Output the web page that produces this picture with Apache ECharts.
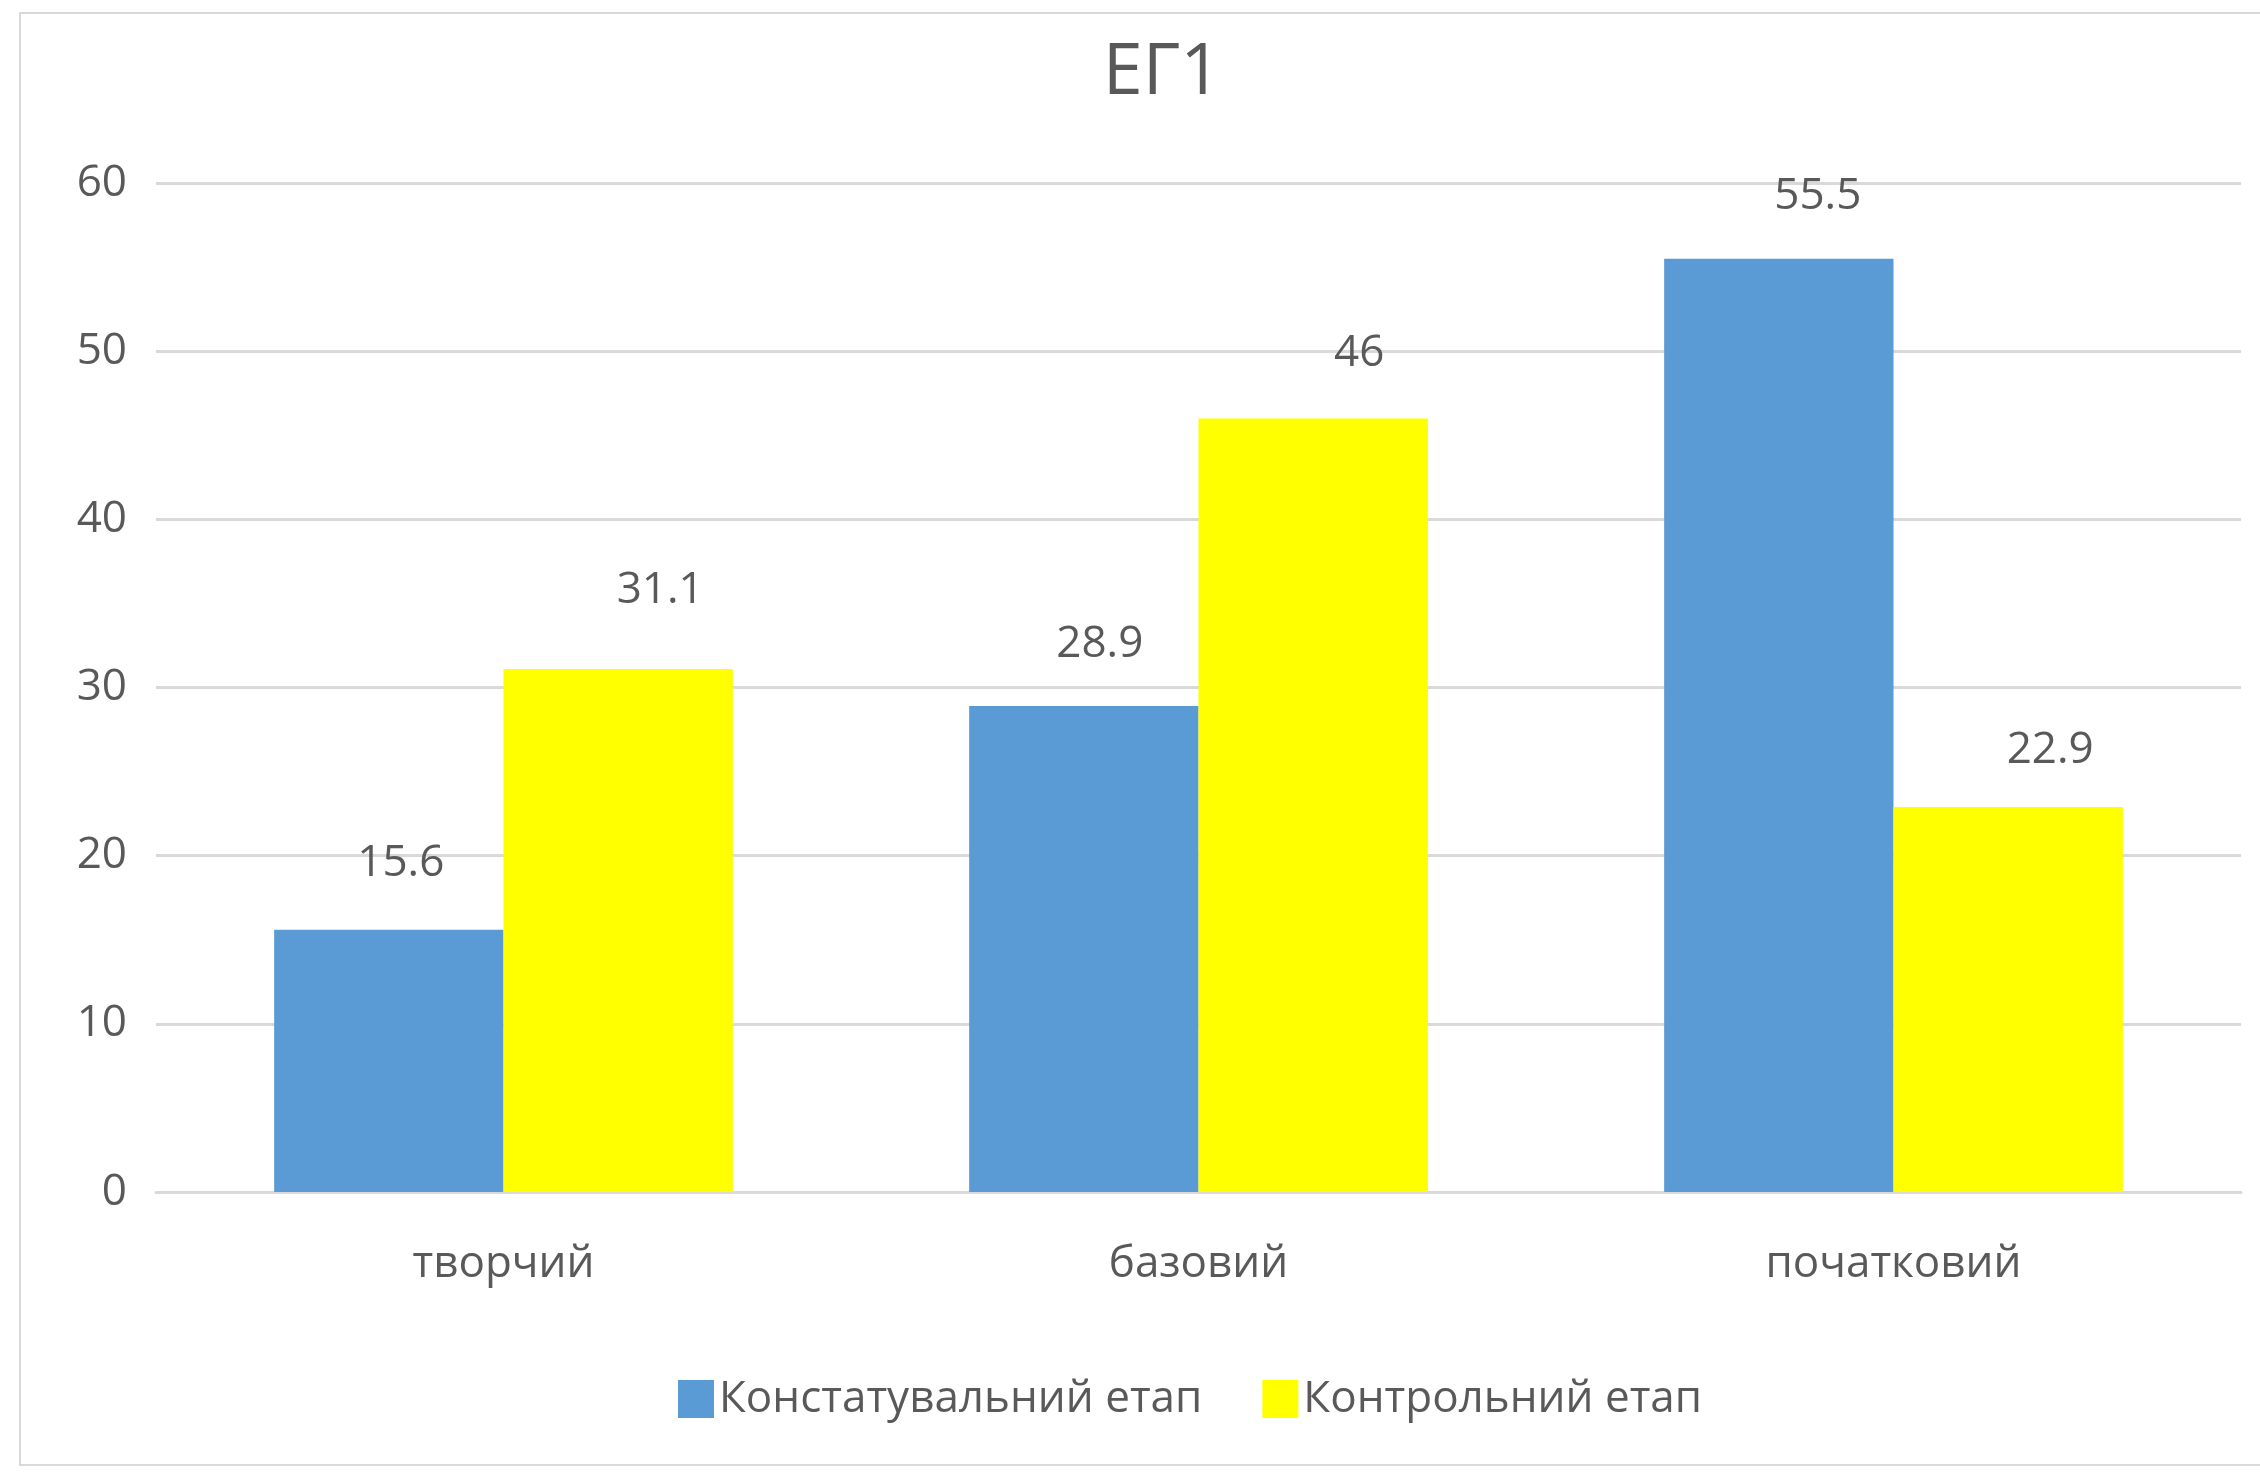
<!DOCTYPE html>
<html><head><meta charset="utf-8">
<script src="https://cdn.jsdelivr.net/npm/echarts@6/dist/echarts.min.js"></script>
<style>html,body{margin:0;padding:0;background:#fff}#c{width:2260px;height:1473px}</style>
</head><body><div id="c"></div>
<script>
const titleText = 'ЕГ1';
const categories = ['творчий', 'базовий', 'початковий'];
const seriesNames = ['Констатувальний етап', 'Контрольний етап'];
const constatValues = [15.6, 28.9, 55.5];
const controlValues = [31.1, 46, 22.9];
const yTicks = [0, 10, 20, 30, 40, 50, 60];

// label nudges (styling only), px
const constatLabelShift = [[12, -4], [16, 0], [39, 0]];
const controlLabelShift = [[42, -17], [46, -3], [42, 6]];

const font = '"Open Sans", "Noto Sans", sans-serif';
const txt = '#595959';
const chart = echarts.init(document.getElementById('c'), null, {renderer: 'canvas'});
const labelCfg = {show: true, position: 'top', distance: 40, color: txt, fontSize: 44, fontFamily: font};
function withShift(vals, shifts) {
  return vals.map((v, i) => ({value: v, label: {offset: shifts[i]}}));
}
chart.setOption({
  backgroundColor: '#ffffff',
  animation: false,
  graphic: [{type: 'rect', shape: {x: 20, y: 13, width: 2260, height: 1452}, style: {fill: 'none', stroke: '#d9d9d9', lineWidth: 2}, z: -10}],
  title: {text: titleText, left: 1157, top: 32, textAlign: 'center',
    textStyle: {color: txt, fontSize: 72, fontWeight: 'normal', fontFamily: font}},
  legend: {data: seriesNames, top: 1372, left: 673, itemWidth: 36, itemHeight: 38, itemGap: 60,
    icon: 'rect', textStyle: {color: txt, fontSize: 44, fontFamily: font}},
  grid: {left: 156, right: 19, top: 183, bottom: 281, containLabel: false},
  xAxis: {type: 'category', data: categories,
    axisLine: {show: true, lineStyle: {color: '#d9d9d9', width: 3}}, axisTick: {show: false},
    axisLabel: {color: txt, fontSize: 44, fontFamily: font, margin: 50}},
  yAxis: {type: 'value', min: yTicks[0], max: yTicks[yTicks.length - 1], interval: 10,
    axisLine: {show: false}, axisTick: {show: false},
    axisLabel: {color: txt, fontSize: 44, fontFamily: font, margin: 29},
    splitLine: {lineStyle: {color: '#d9d9d9', width: 3}}},
  series: [
    {name: seriesNames[0], type: 'bar', data: withShift(constatValues, constatLabelShift), itemStyle: {color: '#5b9bd5'},
      barGap: '0%', barCategoryGap: '34%', label: labelCfg},
    {name: seriesNames[1], type: 'bar', data: withShift(controlValues, controlLabelShift), itemStyle: {color: '#ffff00'},
      barGap: '0%', barCategoryGap: '34%', label: labelCfg}
  ]
});
</script></body></html>
